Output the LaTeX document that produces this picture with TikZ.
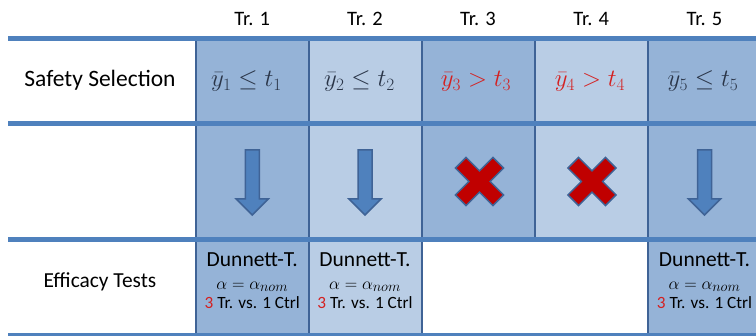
\documentclass[tikz,border=0pt]{standalone}
\usepackage{fontspec}
\setmainfont{Carlito}
\definecolor{celldark}{HTML}{95B3D7}
\definecolor{celllight}{HTML}{B9CDE5}
\definecolor{lineblue}{HTML}{4F81BD}
\definecolor{borderblue}{HTML}{3F6396}
\definecolor{mathgray}{HTML}{2A3548}
\definecolor{failred}{HTML}{D42020}
\definecolor{xred}{HTML}{C00000}
\begin{document}
\begin{tikzpicture}[x=1pt,y=-1pt,
  cellbox/.style={draw=borderblue, line width=2pt},
  hline/.style={draw=lineblue, line width=5pt},
  hdr/.style={anchor=base, font=\fontsize{20.5}{24}\selectfont, inner sep=0pt},
  rowlbl/.style={anchor=base, font=\fontsize{23.5}{27}\selectfont, inner sep=0pt},
  cond/.style={anchor=base, font=\fontsize{25}{29}\selectfont, text=mathgray, inner sep=0pt},
  fail/.style={cond, text=failred},
  dtitle/.style={anchor=base, font=\fontsize{21.5}{25}\selectfont, inner sep=0pt},
  dalpha/.style={anchor=base, font=\fontsize{19}{22}\selectfont, inner sep=0pt},
  dcount/.style={anchor=base, font=\fontsize{17.2}{20}\selectfont, inner sep=0pt},
  downarr/.pic={
    \draw[fill=lineblue, draw=borderblue, line width=1.5pt, line join=miter]
      (-7,-32) -- (7,-32) -- (7,17) -- (16,17) -- (0,33) -- (-16,17) -- (-7,17) -- cycle;
  },
  crossmark/.pic={
    \begin{scope}[rotate=45]
    \draw[fill=xred, draw=borderblue, line width=1.5pt, line join=miter]
      (7.5,26.5) -- (7.5,7.5) -- (26.5,7.5) -- (26.5,-7.5) -- (7.5,-7.5) -- (7.5,-26.5)
      -- (-7.5,-26.5) -- (-7.5,-7.5) -- (-26.5,-7.5) -- (-26.5,7.5) -- (-7.5,7.5) -- (-7.5,26.5) -- cycle;
    \end{scope}
  }
]
\useasboundingbox (0,0) rectangle (756,336);

% row 1 cells
\draw[cellbox, fill=celldark]  (196,38.5) rectangle (308.5,124);
\draw[cellbox, fill=celllight] (308.5,38.5) rectangle (421.5,124);
\draw[cellbox, fill=celldark]  (421.5,38.5) rectangle (534.5,124);
\draw[cellbox, fill=celllight] (534.5,38.5) rectangle (648,124);
\draw[cellbox, fill=celldark]  (648,38.5) rectangle (761,124);
% row 2 cells
\draw[cellbox, fill=celldark]  (196,124) rectangle (308.5,240);
\draw[cellbox, fill=celllight] (308.5,124) rectangle (421.5,240);
\draw[cellbox, fill=celldark]  (421.5,124) rectangle (534.5,240);
\draw[cellbox, fill=celllight] (534.5,124) rectangle (648,240);
\draw[cellbox, fill=celldark]  (648,124) rectangle (761,240);
% row 3 cells
\draw[cellbox, fill=celldark]  (196,240) rectangle (308.5,335);
\draw[cellbox, fill=celllight] (308.5,240) rectangle (421.5,335);
\draw[cellbox, fill=celldark]  (648,240) rectangle (761,335);

% horizontal rules
\draw[hline] (8,38.5) -- (756,38.5);
\draw[hline] (8,124) -- (756,124);
\draw[hline] (8,240) -- (756,240);
\draw[hline, line width=3pt] (8,335) -- (756,335);

% headers
\node[hdr] (h1) at (252.25,26) {Tr. 1};
\node[hdr] (h2) at (365,26) {Tr. 2};
\node[hdr] (h3) at (478,26) {Tr. 3};
\node[hdr] (h4) at (591.25,26) {Tr. 4};
\node[hdr] (h5) at (704.5,26) {Tr. 5};

% row labels
\node[rowlbl] (safety) at (100,87) {Safety Selection};
\node[rowlbl, font=\fontsize{21.4}{25}\selectfont] (efficacy) at (100,288) {Efficacy Tests};

% safety conditions
\node[cond] (c1) at (246.5,87) {$\bar{y}_1 \leq t_1$};
\node[cond] (c2) at (359.5,87) {$\bar{y}_2 \leq t_2$};
\node[fail] (c3) at (476,87) {$\bar{y}_3 > t_3$};
\node[fail] (c4) at (590,87) {$\bar{y}_4 > t_4$};
\node[cond] (c5) at (703,87) {$\bar{y}_5 \leq t_5$};

% decisions
\pic at (252.25,182) {downarr};
\pic at (365,182) {downarr};
\pic at (479.5,181.5) {crossmark};
\pic at (592,181.5) {crossmark};
\pic at (704.5,182) {downarr};

% efficacy tests
\node[dtitle] (d1) at (252.25,266.5) {Dunnett-T.};
\node[dalpha] (a1) at (252.25,289.3) {$\alpha = \alpha_{nom}$};
\node[dcount] (n1) at (252.25,308.5) {\textcolor{failred}{3} Tr. vs. 1 Ctrl};
\node[dtitle] (d2) at (365,266.5) {Dunnett-T.};
\node[dalpha] (a2) at (365,289.3) {$\alpha = \alpha_{nom}$};
\node[dcount] (n2) at (365,308.5) {\textcolor{failred}{3} Tr. vs. 1 Ctrl};
\node[dtitle] (d5) at (704.5,266.5) {Dunnett-T.};
\node[dalpha] (a5) at (704.5,289.3) {$\alpha = \alpha_{nom}$};
\node[dcount] (n5) at (704.5,308.5) {\textcolor{failred}{3} Tr. vs. 1 Ctrl};
\end{tikzpicture}
\end{document}
